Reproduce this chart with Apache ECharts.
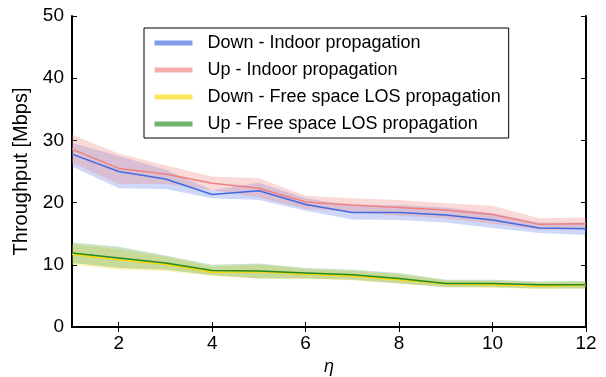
<!DOCTYPE html>
<html>
<head>
<meta charset="utf-8">
<script src="https://cdn.jsdelivr.net/npm/echarts@6/dist/echarts.min.js"></script>
<style>
  html, body { margin: 0; padding: 0; background: #fff; }
  #chart { width: 606px; height: 377px; }
</style>
</head>
<body>
<div id="chart"></div>
<script>
// eta values (x)
const eta = [1, 2, 3, 4, 5, 6, 7, 8, 9, 10, 11, 12]
const xTicks = [2, 4, 6, 8, 10, 12]

// mean throughput
const downIndoor = [27.8, 25.0, 23.8, 21.3, 21.9, 19.7, 18.4, 18.4, 18.0, 17.2, 15.9, 15.8]
const upIndoor = [28.6, 25.5, 24.6, 23.1, 22.3, 20.1, 19.6, 19.2, 18.8, 18.1, 16.5, 16.6]
const downLos = [11.7, 10.8, 10.1, 8.8, 8.9, 8.5, 8.2, 7.6, 6.9, 6.8, 6.6, 6.7]
const upLos = [11.9, 11.1, 10.3, 9.1, 9.0, 8.7, 8.4, 7.8, 7.0, 7.0, 6.8, 6.8]

// shaded ranges (low / high)
const downIndoorLo = [25.8, 22.3, 22.2, 20.7, 20.4, 18.7, 17.3, 17.2, 16.8, 15.9, 15.1, 14.8]
const downIndoorHi = [29.6, 27.5, 25.3, 22.0, 23.2, 20.7, 19.5, 19.6, 19.2, 18.3, 16.8, 16.8]
const upIndoorLo = [26.4, 23.0, 23.0, 22.0, 20.8, 19.0, 18.5, 17.9, 17.5, 16.6, 15.6, 15.8]
const upIndoorHi = [30.9, 27.9, 26.0, 24.2, 23.9, 21.1, 20.7, 20.4, 19.9, 19.5, 17.5, 17.6]
const downLosLo = [10.0, 9.2, 9.0, 8.2, 7.8, 7.7, 7.5, 7.0, 6.4, 6.3, 6.1, 6.2]
const downLosHi = [13.3, 12.5, 11.3, 9.7, 10.0, 9.3, 9.0, 8.5, 7.5, 7.4, 7.2, 7.3]
const upLosLo = [10.3, 9.5, 9.2, 8.3, 7.8, 7.8, 7.6, 7.0, 6.4, 6.4, 6.2, 6.2]
const upLosHi = [13.6, 12.9, 11.5, 10.0, 10.2, 9.5, 9.2, 8.7, 7.6, 7.6, 7.3, 7.4]

const names = [
  'Down - Indoor propagation',
  'Up - Indoor propagation',
  'Down - Free space LOS propagation',
  'Up - Free space LOS propagation'
]
const colors = ['#4169e1', '#f08080', '#ffd700', '#228b22']
const bandColors = [
  'rgba(65,105,225,0.25)',
  'rgba(240,128,128,0.3)',
  'rgba(255,215,0,0.25)',
  'rgba(34,139,34,0.25)'
]

const font = "'Liberation Sans', Arial, sans-serif"

const chart = echarts.init(document.getElementById('chart'))

function band(lo, hi, color) {
  return {
    type: 'custom',
    silent: true,
    z: 1,
    data: eta.map((x, i) => [x, lo[i], hi[i]]),
    encode: { x: 0, y: [1, 2] },
    renderItem: function (params, api) {
      if (params.dataIndex !== 0) return
      const top = eta.map((x, i) => api.coord([x, hi[i]]))
      const bottom = eta.map((x, i) => api.coord([x, lo[i]])).reverse()
      return {
        type: 'polygon',
        shape: { points: top.concat(bottom) },
        style: { fill: color }
      }
    }
  }
}

function line(name, values, color) {
  return {
    name: name,
    type: 'line',
    z: 3,
    symbol: 'none',
    lineStyle: { color: color, width: 1.5 },
    itemStyle: { color: color },
    data: eta.map((x, i) => [x, values[i]])
  }
}

const tickStyle = { fontFamily: font, fontSize: 19, color: '#000' }

const option = {
  animation: false,
  grid: { left: 72, right: 20, top: 16, bottom: 50, outerBoundsMode: 'none' },
  legend: {
    orient: 'vertical',
    left: 144,
    top: 28,
    padding: [6, 8, 5, 8],
    itemGap: 9,
    itemWidth: 38,
    itemHeight: 18,
    backgroundColor: '#fff',
    borderColor: '#000',
    borderWidth: 1,
    itemStyle: { opacity: 0 },
    lineStyle: { width: 5, opacity: 0.65 },
    textStyle: { fontFamily: font, fontSize: 18, color: '#000', padding: [0, 0, 0, 10] },
    data: names
  },
  xAxis: [
    {
      type: 'value',
      min: 1,
      max: 12,
      name: 'η',
      nameLocation: 'middle',
      nameGap: 31,
      nameTextStyle: { fontFamily: font, fontSize: 18, fontStyle: 'italic', color: '#000' },
      axisLine: { lineStyle: { color: '#000', width: 2 } },
      axisTick: { inside: true, length: 5, lineStyle: { color: '#000', width: 1 }, customValues: xTicks },
      axisLabel: { ...tickStyle, margin: 7, customValues: xTicks },
      splitLine: { show: false }
    },
    {
      type: 'value',
      position: 'top',
      min: 1,
      max: 12,
      axisLine: { lineStyle: { color: '#000', width: 2 } },
      axisTick: { inside: true, length: 5, lineStyle: { color: '#000', width: 1 }, customValues: xTicks },
      axisLabel: { show: false },
      splitLine: { show: false }
    }
  ],
  yAxis: [
    {
      type: 'value',
      min: 0,
      max: 50,
      interval: 10,
      name: 'Throughput [Mbps]',
      nameLocation: 'middle',
      nameGap: 40,
      nameTextStyle: { fontFamily: font, fontSize: 20, color: '#000' },
      axisLine: { show: true, lineStyle: { color: '#000', width: 2 } },
      axisTick: { show: true, inside: true, length: 5, lineStyle: { color: '#000', width: 1 } },
      axisLabel: { ...tickStyle, margin: 8 },
      splitLine: { show: false }
    },
    {
      type: 'value',
      position: 'right',
      min: 0,
      max: 50,
      interval: 10,
      axisLine: { show: true, lineStyle: { color: '#000', width: 2 } },
      axisTick: { show: true, inside: true, length: 5, lineStyle: { color: '#000', width: 1 } },
      axisLabel: { show: false },
      splitLine: { show: false }
    }
  ],
  series: [
    band(downIndoorLo, downIndoorHi, bandColors[0]),
    band(upIndoorLo, upIndoorHi, bandColors[1]),
    band(downLosLo, downLosHi, bandColors[2]),
    band(upLosLo, upLosHi, bandColors[3]),
    line(names[0], downIndoor, colors[0]),
    line(names[1], upIndoor, colors[1]),
    line(names[2], downLos, colors[2]),
    line(names[3], upLos, colors[3])
  ]
}

chart.setOption(option, true)
</script>
</body>
</html>
